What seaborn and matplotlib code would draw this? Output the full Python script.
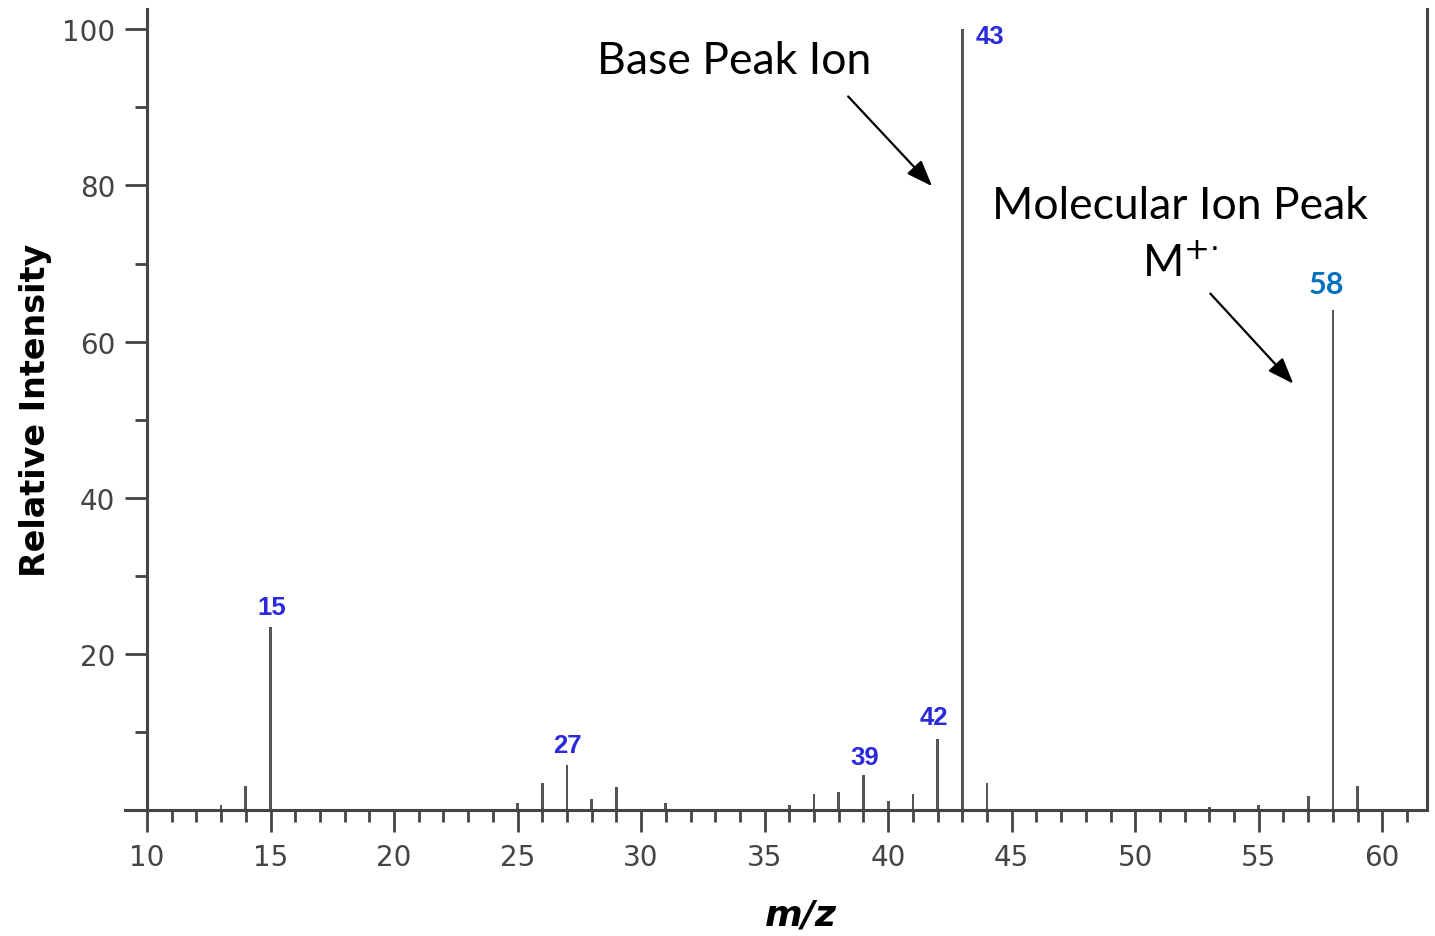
import matplotlib
matplotlib.use("Agg")
import matplotlib.pyplot as plt
from matplotlib.ticker import MultipleLocator, NullFormatter
import seaborn as sns

# mass spectrum peaks (m/z, relative intensity)
mz = [13, 14, 15, 25, 26, 27, 28, 29, 31, 36, 37, 38, 39, 40, 41, 42, 43, 44, 53, 55, 57, 58, 59]
intensity = [0.7, 3.1, 23.5, 0.9, 3.5, 5.8, 1.4, 2.9, 0.9, 0.6, 2.0, 2.3, 4.5, 1.2, 2.0, 9.1,
             100.0, 3.5, 0.4, 0.7, 1.75, 64.0, 3.1]

# peaks that carry a blue m/z label
labelled_mz = [15, 27, 39, 42, 43]
molecular_ion = 58

sns.set_style("white")
plt.rcParams["font.family"] = ["DejaVu Sans"]
plt.rcParams["text.color"] = "black"

fig = plt.figure(figsize=(14.35, 9.37), dpi=100)
ax = fig.add_axes([125 / 1435, 1 - 811 / 937, 1302 / 1435, 801 / 937])

sns.barplot(x=mz, y=intensity, native_scale=True, width=0.11, color="#555555",
            saturation=1, linewidth=0, orient="x", ax=ax)

ax.set_xlim(9.11, 61.81)
ax.set_ylim(0, 102.6)

# axis look
for side in ["left", "right", "bottom"]:
    ax.spines[side].set_color("#444444")
    ax.spines[side].set_linewidth(2.2)
ax.spines["top"].set_visible(False)
ax.spines["left"].set_position(("data", 10))

ax.xaxis.set_major_locator(MultipleLocator(5))
ax.xaxis.set_minor_locator(MultipleLocator(1))
ax.yaxis.set_minor_locator(MultipleLocator(10))
ax.set_yticks([20, 40, 60, 80, 100])
ax.yaxis.set_minor_formatter(NullFormatter())

ax.tick_params(axis="both", which="both", bottom=True, left=True, right=False, top=False)
ax.tick_params(axis="both", which="major", direction="out", length=16, width=2,
               color="#444444", labelsize=20, labelcolor="#444444")
ax.tick_params(axis="both", which="minor", direction="out", length=8.5, width=2,
               color="#444444")
ax.tick_params(axis="x", which="major", pad=8)
ax.tick_params(axis="y", which="major", pad=7)

ax.set_xlabel("m/z", fontsize=26, fontweight="bold", fontstyle="italic", color="black")
ax.xaxis.label.set_va("center")
ax.xaxis.set_label_coords(0.519, -0.13)
ax.set_ylabel("Relative Intensity", fontsize=24, fontweight="bold", color="black")
ax.yaxis.label.set_va("center")
ax.yaxis.set_label_coords(-0.0685, 0.5)

# blue peak labels
height = dict(zip(mz, intensity))
offsets = {15: (1, 14), 27: (0, 14), 39: (1, 13), 42: (-3, 16), 43: (20, -5)}
for m in labelled_mz:
    ax.annotate(str(m), xy=(m, height[m]), xytext=offsets[m], textcoords="offset points",
                ha="center", va="center", color="#2A2AD8", fontsize=18.5,
                fontweight="bold", family="Liberation Sans")
ax.annotate(str(molecular_ion), xy=(molecular_ion, height[molecular_ion]), xytext=(-5, 19),
            textcoords="offset points", ha="center", va="center", color="#0070C0",
            fontsize=22, fontweight="bold", family="Lato")

# callouts
ax.text(33.77, 96.0, "Base Peak Ion", ha="center", va="center", fontsize=32,
        family="Lato", color="black")
ax.text(51.82, 77.4, "Molecular Ion Peak", ha="center", va="center", fontsize=32,
        family="Lato", color="black")
ax.text(51.82, 70.0, r"M$^{+{\cdot}}$", ha="center", va="center", fontsize=32,
        family="Lato", color="black")

arrow = dict(arrowstyle="-|>,head_length=0.8,head_width=0.3", color="black", lw=1.6,
             mutation_scale=20, shrinkA=0, shrinkB=0)
ax.annotate("", xy=(41.78, 79.9), xytext=(38.38, 91.4), arrowprops=arrow)
ax.annotate("", xy=(56.40, 54.6), xytext=(53.04, 66.15), arrowprops=arrow)

fig.savefig("out.png", dpi=100)
